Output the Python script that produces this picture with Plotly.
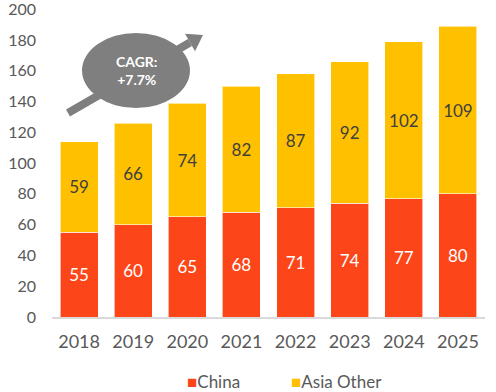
import plotly.graph_objects as go

years = ["2018", "2019", "2020", "2021", "2022", "2023", "2024", "2025"]
china = [55, 60, 65, 68, 71, 74, 77, 80]
asia_other = [59, 66, 74, 82, 87, 92, 102, 109]
y_ticks = [0, 20, 40, 60, 80, 100, 120, 140, 160, 180, 200]

RED = "#FC4619"
YEL = "#FFC000"
TXT = "#595959"
FONT = "Lato"

W, H = 496, 392
ML, MR, MT, MB = 52, 11, 0, 75
YMAX = 206
PW, PH = W - ML - MR, H - MT - MB


def px2x(px):
    # category axis range [-0.5, 7.5]
    return -0.5 + (px - ML) / PW * 8


def py2y(py):
    return (H - MB - py) / PH * YMAX


fig = go.Figure()
fig.add_bar(x=years, y=china, name="China", marker=dict(color=RED, line=dict(color="rgba(255,255,255,0.6)", width=1)),
            text=china, textposition="inside", insidetextanchor="middle", textangle=0,
            textfont=dict(color="white", size=17, family=FONT))
fig.add_bar(x=years, y=asia_other, name="Asia Other", marker=dict(color=YEL, line=dict(color="rgba(255,255,255,0.6)", width=1)),
            text=asia_other, textposition="inside", insidetextanchor="middle", textangle=0,
            textfont=dict(color="#404040", size=17, family=FONT))

# arrow (shaft + head) drawn beneath the ellipse
tail = (68, 113)
tip = (203, 35)
dx, dy = tip[0] - tail[0], tip[1] - tail[1]
L = (dx ** 2 + dy ** 2) ** 0.5
ux, uy = dx / L, dy / L
nx, ny = -uy, ux
hl, hw = 15, 10
bx, by = tip[0] - hl * ux, tip[1] - hl * uy
shapes = [
    dict(type="line", xref="x", yref="y", x0=px2x(tail[0]), y0=py2y(tail[1]), x1=px2x(bx), y1=py2y(by),
         line=dict(color="#7F7F7F", width=8), layer="above"),
    dict(type="path", xref="x", yref="y",
         path=f"M {px2x(tip[0])},{py2y(tip[1])} L {px2x(bx + hw * nx)},{py2y(by + hw * ny)} L {px2x(bx - hw * nx)},{py2y(by - hw * ny)} Z",
         fillcolor="#7F7F7F", line=dict(width=0), layer="above"),
    dict(type="circle", xref="x", yref="y", x0=px2x(82), x1=px2x(190), y0=py2y(108), y1=py2y(33),
         fillcolor="#7F7F7F", line=dict(width=0), layer="above"),
]

annotations = [
    dict(x=px2x(136), y=py2y(70), xref="x", yref="y", text="<b>CAGR:<br>+7.7%</b>", showarrow=False,
         font=dict(color="white", size=14, family=FONT), align="center"),
    dict(x=px2x(185), y=(H - MB - 381) / PH, xref="x", yref="paper", showarrow=False,
         text=f"<span style='color:{RED}'>■</span>China",
         font=dict(color=TXT, size=17, family=FONT), xanchor="left", yanchor="middle"),
    dict(x=px2x(289), y=(H - MB - 381) / PH, xref="x", yref="paper", showarrow=False,
         text=f"<span style='color:{YEL}'>■</span>Asia Other",
         font=dict(color=TXT, size=17, family=FONT), xanchor="left", yanchor="middle"),
]

fig.update_layout(
    barmode="stack", bargap=0.3, width=W, height=H,
    margin=dict(l=ML, r=MR, t=MT, b=MB, autoexpand=False),
    paper_bgcolor="white", plot_bgcolor="white",
    showlegend=False, shapes=shapes, annotations=annotations,
    font=dict(family=FONT, color=TXT, size=16),
    xaxis=dict(showgrid=False, showline=True, linecolor="#D9D9D9", linewidth=1.5, ticks="",
               tickfont=dict(size=18, color=TXT), range=[-0.5, 7.5], ticklabelstandoff=8),
    yaxis=dict(range=[0, YMAX], tickvals=y_ticks, showgrid=False, zeroline=False, showline=False,
               tickfont=dict(size=16, color=TXT), ticklabelstandoff=15, ticklabeloverflow="allow"),
)

fig.write_html("out.html", config={"displayModeBar": False},
               post_script="document.body.style.margin='0';document.body.style.padding='0';")
